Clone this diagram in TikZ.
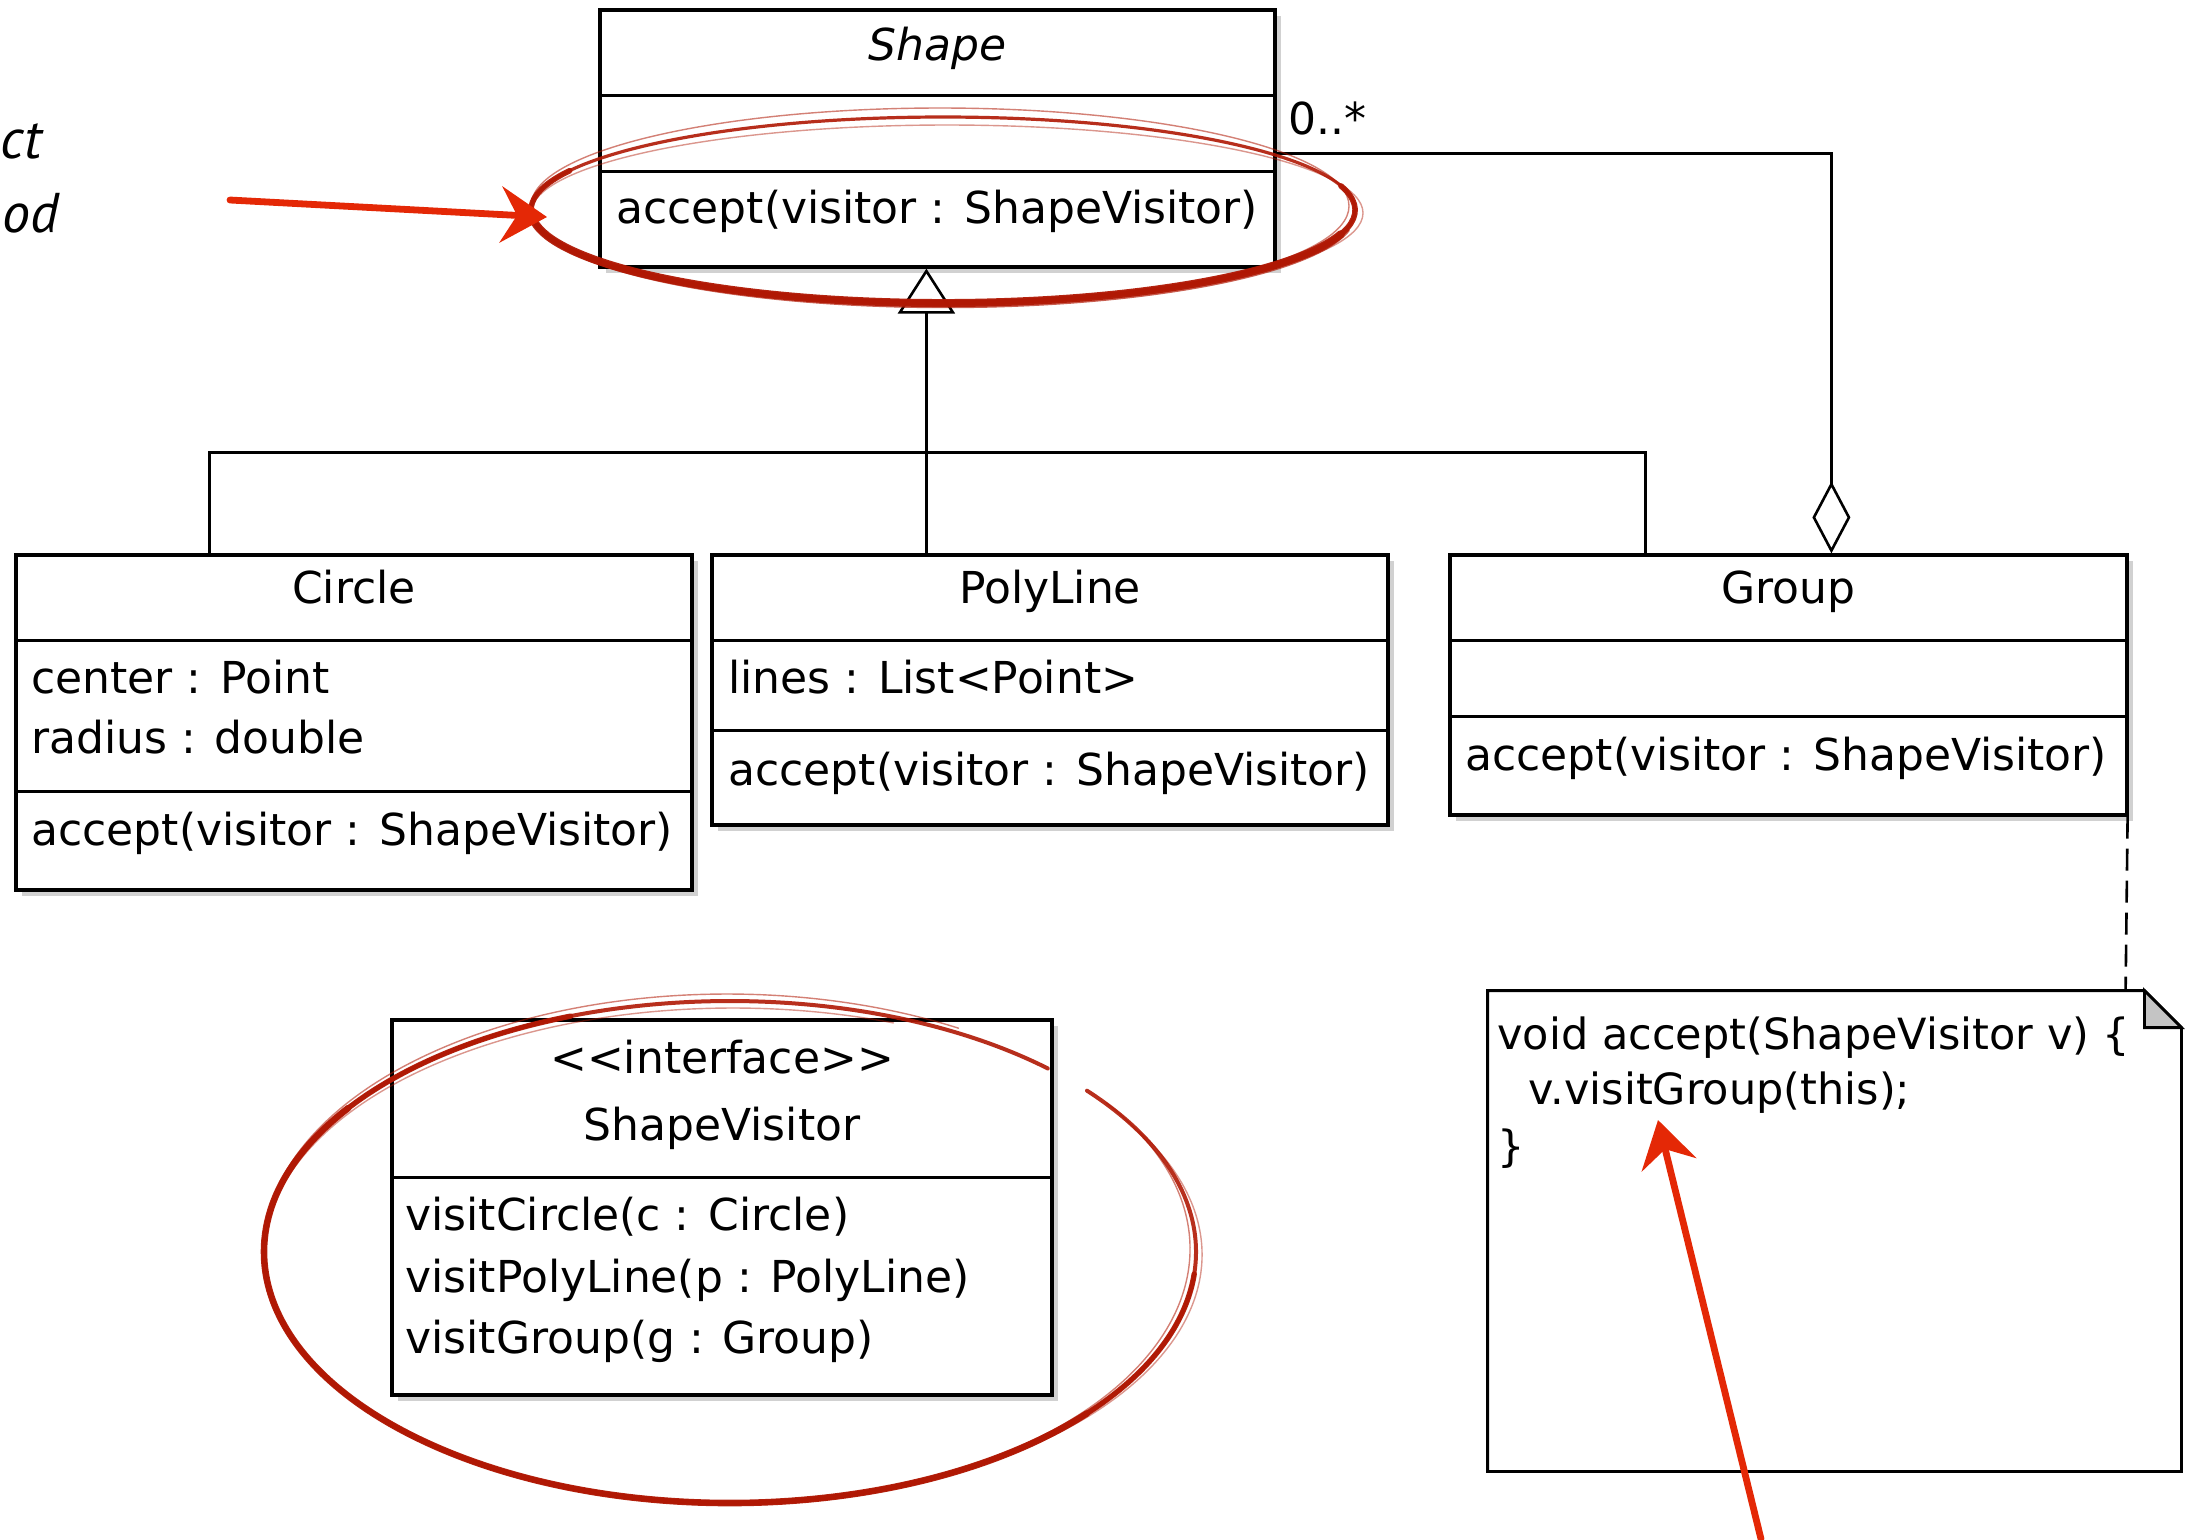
\documentclass[tikz,border=0pt]{standalone}
\usepackage{fontspec}
\setmainfont{DejaVu Sans}
\newfontfamily\sidefont{PT Sans}
\usetikzlibrary{arrows.meta,shadows,calc}

\definecolor{inkred}{RGB}{176,24,4}
\definecolor{penred}{RGB}{228,40,6}
\definecolor{foldgray}{RGB}{196,196,196}

\tikzset{
  classbox/.style={draw=black, line width=1.6pt, fill=white, inner sep=0pt,
    drop shadow={shadow xshift=3pt, shadow yshift=-3pt, fill=black, opacity=0.18}},
  compart/.style={line width=1.6pt},
  boxtext/.style={inner sep=0pt, font=\fontsize{22}{26}\selectfont},
  heading/.style={boxtext, anchor=base},
  member/.style={boxtext, anchor=base west},
  notetext/.style={inner sep=0pt, anchor=base west, font=\fontsize{21.5}{26}\selectfont},
  sidetext/.style={inner sep=0pt, font=\sidefont\itshape\fontsize{28}{32}\selectfont},
  connector/.style={line width=1.3pt},
  notelink/.style={line width=1.3pt, dash pattern=on 11pt off 5pt},
  notebox/.style={line width=1.4pt, line join=miter},
  sketch/.style={draw=inkred, line cap=round},
  pointer/.style={draw=penred, line width=3.4pt, line cap=round,
    -{Stealth[length=23pt, width=28pt, inset=8pt]}},
}
\newcommand{\compartment}[2]{\draw[compart] ($(#1.north west)+(0,#2)$) -- ($(#1.north east)+(0,#2)$);}

\begin{document}
\begin{tikzpicture}[x=0.5pt, y=-0.5pt]
\useasboundingbox (0,0) rectangle (2189,1539);

% ---- class boxes ----
\node[classbox, minimum width=337.5pt, minimum height=128.5pt] (shape) at (937.5,138.5) {};
\node[classbox, minimum width=338pt, minimum height=167.5pt] (circle) at (354,722.5) {};
\node[classbox, minimum width=338pt, minimum height=135pt] (polyline) at (1050,690) {};
\node[classbox, minimum width=338.5pt, minimum height=130pt] (group) at (1788.5,685) {};
\node[classbox, minimum width=330pt, minimum height=187.5pt] (visitor) at (722,1207.5) {};
\node[minimum width=346.5pt, minimum height=240pt, inner sep=0pt] (note) at (1834.5,1231) {};

\compartment{shape}{87}
\compartment{shape}{163}
\compartment{circle}{87}
\compartment{circle}{238}
\compartment{polyline}{87}
\compartment{polyline}{177}
\compartment{group}{87}
\compartment{group}{163}
\compartment{visitor}{159}

% ---- texts of the classes ----
\node[heading, font=\fontsize{22}{26}\selectfont\itshape] (shapeName) at (937.5,60) {Shape};
\node[member] (shapeOp) at (616,223) {accept(visitor : ShapeVisitor)};

\node[heading] (circleName) at (354,603) {Circle};
\node[member] (circleCenter) at (31,693) {center : Point};
\node[member] (circleRadius) at (31,753) {radius : double};
\node[member] (circleOp) at (31,845) {accept(visitor : ShapeVisitor)};

\node[heading] (polyName) at (1050,603) {PolyLine};
\node[member] (polyLines) at (728,693) {lines : List<Point>};
\node[member] (polyOp) at (728,785) {accept(visitor : ShapeVisitor)};

\node[heading] (groupName) at (1788.5,603) {Group};
\node[member] (groupOp) at (1465,770) {accept(visitor : ShapeVisitor)};

\node[heading] (visitorStereo) at (722,1073) {<{}<interface>{}>};
\node[heading] (visitorName) at (722,1140) {ShapeVisitor};
\node[member] (visitCircle) at (405,1230) {visitCircle(c : Circle)};
\node[member] (visitPoly) at (405,1292) {visitPolyLine(p : PolyLine)};
\node[member] (visitGroup) at (405,1353) {visitGroup(g : Group)};

\node[boxtext, anchor=base west] (mult) at (1288,134) {0..*};

% ---- side words ----
\node[sidetext, anchor=base east] (sideA) at (42,158) {ct};
\node[sidetext, anchor=base west] (sideB) at (2,232) {od};

% ---- note with folded corner ----
\draw[notebox, fill=white] (note.north west) -- ($(note.north east)+(-37,0)$)
  -- ($(note.north east)+(0,37)$) -- (note.south east) -- (note.south west) -- cycle;
\filldraw[notebox, fill=foldgray] ($(note.north east)+(-37,0)$) -- ($(note.north east)+(-37,37)$)
  -- ($(note.north east)+(0,37)$) -- cycle;
\node[notetext] (noteA) at (1497,1049) {void accept(ShapeVisitor v) \{};
\node[notetext] (noteB) at (1528,1104) {v.visitGroup(this);};
\node[notetext] (noteC) at (1497,1161) {\}};

% ---- generalization ----
\draw[connector] ($(circle.north west)+(195,0)$) -- ++(0,-101) -| ($(group.north west)+(197,0)$);
\draw[connector, -{Triangle[open, length=22.5pt, width=28.5pt]}]
  ($(polyline.north west)+(216,0)$) -- ($(shape.south west)+(328,0)$);

% ---- aggregation ----
\draw[connector, -{Diamond[open, length=36pt, width=19pt]}]
  ($(shape.north east)+(0,145)$) -| ($(group.north west)+(383,0)$);

% ---- note link ----
\draw[notelink] ($(group.south east)+(-1,0)$) -- ($(note.north west)+(638,0)$);

% ---- hand-drawn highlights (angles run clockwise on screen) ----
% ring round the abstract operation
\draw[sketch, line width=1.6pt, opacity=0.9] (943,210) ellipse [x radius=412, y radius=93];
\draw[sketch, line width=0.7pt, opacity=0.55] (940,206) ellipse [x radius=409, y radius=98];
\draw[sketch, line width=0.7pt, opacity=0.45] (947,213) ellipse [x radius=416, y radius=88];
\draw[sketch, line width=2.8pt, opacity=0.95] ($(943,210)+(-15:412 and 93)$)
  arc[start angle=-15, end angle=205, x radius=412, y radius=93];
\draw[sketch, line width=4pt, opacity=0.95] ($(943,210)+(15:412 and 93)$)
  arc[start angle=15, end angle=175, x radius=412, y radius=93];
\draw[sketch, line width=1.2pt, opacity=0.7] ($(945,214)+(10:410 and 93)$)
  arc[start angle=10, end angle=170, x radius=410, y radius=93];

% ring round the visitor interface
\draw[sketch, line width=2pt, opacity=0.9] ($(730,1252)+(-40:466 and 251)$)
  arc[start angle=-40, end angle=313, x radius=466, y radius=251];
\draw[sketch, line width=2.7pt, opacity=0.95] ($(730,1252)+(5:466 and 251)$)
  arc[start angle=5, end angle=250, x radius=466, y radius=251];
\draw[sketch, line width=3.3pt, opacity=0.95] ($(730,1252)+(40:466 and 251)$)
  arc[start angle=40, end angle=215, x radius=466, y radius=251];
\draw[sketch, line width=0.7pt, opacity=0.55] ($(727,1249)+(-35:463 and 255)$)
  arc[start angle=-35, end angle=300, x radius=463, y radius=255];
\draw[sketch, line width=0.7pt, opacity=0.45] ($(733,1255)+(-30:469 and 247)$)
  arc[start angle=-30, end angle=290, x radius=469, y radius=247];

% pointers
\coordinate (pointerTail) at (230,200);
\coordinate (pointerTip) at (547,217);
\draw[pointer] (pointerTail) -- (pointerTip);

\coordinate (noteTail) at (1761,1539);
\coordinate (noteTip) at (1658,1120);
\draw[pointer] (noteTail) -- (noteTip);
\end{tikzpicture}
\end{document}
